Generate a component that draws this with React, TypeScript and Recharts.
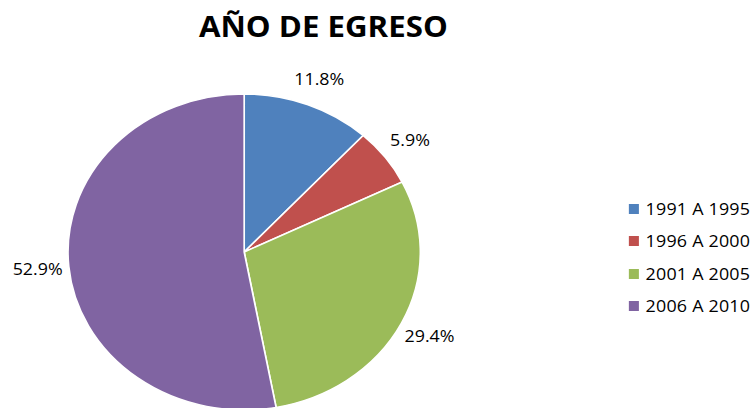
import React from "react";
import { Legend, Pie, PieChart, Cell } from "recharts";

const categories = ["1991 A 1995", "1996 A 2000", "2001 A 2005", "2006 A 2010"];
const shares = [11.8, 5.9, 29.4, 52.9];
const colors = ["#4F81BD", "#C0504D", "#9BBB59", "#8064A2"];

const data = categories.map((name, i) => ({ name, value: shares[i] }));

// the original picture is stretched sideways, so the whole chart is drawn narrower and scaled
const STRETCH = 1.115;
const W = 675;
const H = 408;
const FONT = "'Open Sans', sans-serif";
const RAD = Math.PI / 180;

const renderLabel = (props: any) => {
    const { cx, cy, midAngle, outerRadius, value } = props;
    const r = outerRadius + 28;
    const x = cx + r * Math.cos(-midAngle * RAD);
    const y = cy + r * Math.sin(-midAngle * RAD);
    return (
        <text
            x={x}
            y={y}
            textAnchor="middle"
            dominantBaseline="central"
            fontFamily={FONT}
            fontSize={16}
            fill="#000"
        >
            {value.toFixed(1)}%
        </text>
    );
};

const renderLegend = (props: any) => {
    const { payload } = props;
    return (
        <div style={{ fontFamily: FONT, fontSize: 16, color: "#000" }}>
            {payload.map((entry: any) => (
                <div
                    key={entry.value}
                    style={{ display: "flex", alignItems: "center", height: 32.3, letterSpacing: 0.2, whiteSpace: "nowrap" }}
                >
                    <span
                        style={{
                            display: "inline-block",
                            width: 9,
                            height: 10,
                            background: entry.color,
                            marginRight: 6,
                        }}
                    />
                    {entry.value}
                </div>
            ))}
        </div>
    );
};

export default function App() {
    return (
        <div style={{ position: "absolute", left: 0, top: 0, width: 752, height: H, background: "#fff", overflow: "hidden" }}>
            <div
                style={{
                    position: "absolute",
                    left: 0,
                    top: 0,
                    width: W,
                    height: H,
                    transform: `scaleX(${STRETCH})`,
                    transformOrigin: "0 0",
                }}
            >
                <div
                    style={{
                        position: "absolute",
                        left: 0,
                        top: 12,
                        width: 580,
                        textAlign: "center",
                        fontFamily: FONT,
                        fontWeight: 700,
                        fontSize: 28,
                        lineHeight: "28px",
                        color: "#000",
                    }}
                >
                    AÑO DE EGRESO
                </div>
                <PieChart width={W} height={H} margin={{ top: 0, right: 0, bottom: 0, left: 0 }}>
                    <Pie
                        data={data}
                        dataKey="value"
                        nameKey="name"
                        cx={219}
                        cy={252}
                        outerRadius={158}
                        startAngle={90}
                        endAngle={-270}
                        stroke="#fff"
                        strokeWidth={1.5}
                        label={renderLabel}
                        labelLine={false}
                        isAnimationActive={false}
                    >
                        {data.map((d, i) => (
                            <Cell key={d.name} fill={colors[i]} />
                        ))}
                    </Pie>
                    <Legend
                        layout="vertical"
                        align="right"
                        verticalAlign="middle"
                        content={renderLegend}
                        wrapperStyle={{ left: 564, top: 193, right: "auto", width: 110 }}
                    />
                </PieChart>
            </div>
        </div>
    );
}
